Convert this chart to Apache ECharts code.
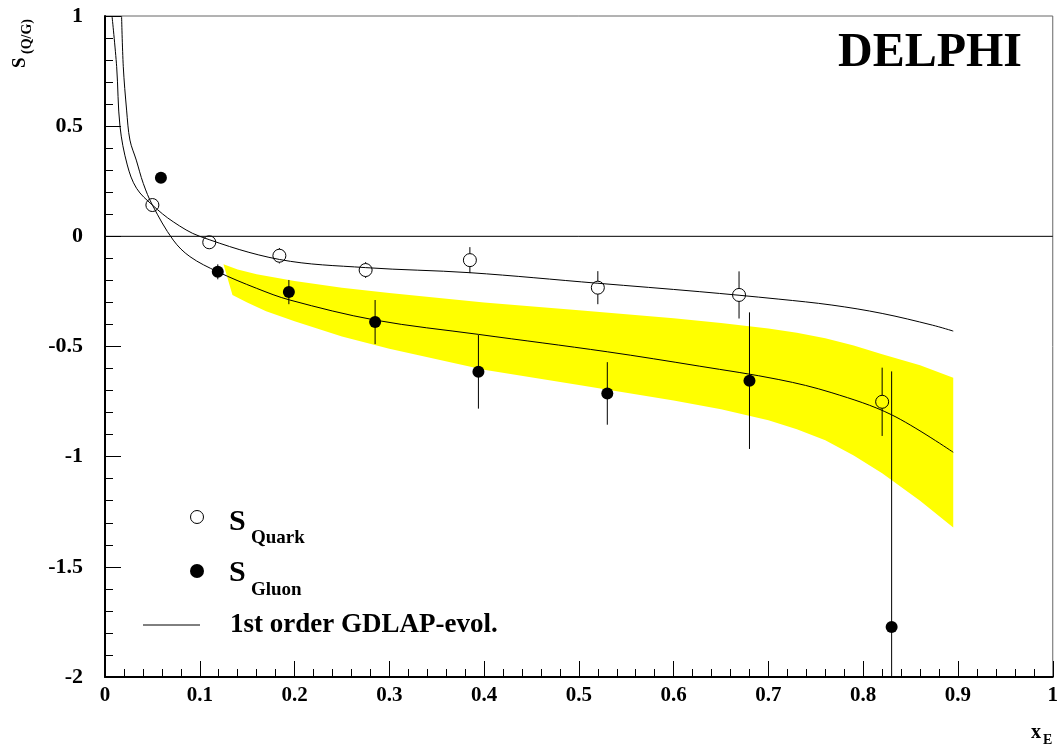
<!DOCTYPE html>
<html>
<head>
<meta charset="utf-8">
<script src="https://cdn.jsdelivr.net/npm/echarts@6/dist/echarts.min.js"></script>
<style>
html,body{margin:0;padding:0;background:#fff;}
#chart{width:1061px;height:749px;}
</style>
</head>
<body>
<div id="chart"></div>
<script>
// ---- data ----
const quarkX   = [0.05, 0.11, 0.184, 0.275, 0.385, 0.52, 0.669, 0.82];
const quarkY   = [0.142, -0.027, -0.088, -0.153, -0.108, -0.233, -0.266, -0.751];
const quarkErr = [0, 0.015, 0.035, 0.036, 0.059, 0.075, 0.107, 0.155];

const gluonX   = [0.059, 0.119, 0.194, 0.285, 0.394, 0.53, 0.68, 0.83];
const gluonY   = [0.266, -0.161, -0.253, -0.389, -0.615, -0.713, -0.655, -1.773];
const gluonErr = [0, 0.034, 0.055, 0.1, 0.167, 0.142, 0.31, 1.16];

const quarkCurveX = [0.0074, 0.0123, 0.0158, 0.0235, 0.0333, 0.05, 0.072, 0.1, 0.184, 0.275, 0.385, 0.52, 0.627, 0.711, 0.767, 0.82, 0.873, 0.895];
const quarkCurveY = [1.0, 0.77, 0.50, 0.324, 0.218, 0.142, 0.066, 0.0, -0.105, -0.142, -0.165, -0.213, -0.251, -0.285, -0.312, -0.35, -0.403, -0.43];

const gluonCurveX = [0.0175, 0.0193, 0.0228, 0.0263, 0.033, 0.0404, 0.05, 0.072, 0.0896, 0.119, 0.16, 0.195, 0.285, 0.394, 0.53, 0.627, 0.711, 0.767, 0.83, 0.895];
const gluonCurveY = [1.0, 0.77, 0.573, 0.437, 0.346, 0.24, 0.142, -0.017, -0.092, -0.161, -0.236, -0.289, -0.38, -0.445, -0.524, -0.589, -0.65, -0.71, -0.81, -0.98];

const bandUpperX = [0.125, 0.14, 0.16, 0.2, 0.25, 0.3, 0.4, 0.5, 0.6, 0.65, 0.7, 0.73, 0.76, 0.79, 0.82, 0.86, 0.895];
const bandUpperY = [-0.127, -0.15, -0.172, -0.203, -0.233, -0.257, -0.3, -0.335, -0.372, -0.393, -0.418, -0.438, -0.463, -0.495, -0.535, -0.585, -0.642];
const bandLowerX = [0.1345, 0.15, 0.17, 0.2, 0.25, 0.3, 0.4, 0.5, 0.6, 0.65, 0.7, 0.73, 0.76, 0.79, 0.82, 0.86, 0.895];
const bandLowerY = [-0.266, -0.3, -0.34, -0.385, -0.455, -0.51, -0.605, -0.675, -0.745, -0.785, -0.835, -0.875, -0.925, -0.995, -1.075, -1.2, -1.321];

const zeroLineX = [0, 1];
const zeroLineY = [0, 0];

const legendLabels = ['Quark', 'Gluon', '1st order GDLAP-evol.'];
const experimentLabel = 'DELPHI';

// ---- build ----
const zip = (xs, ys) => xs.map((x, i) => [x, ys[i]]);
const zip3 = (xs, ys, es) => xs.map((x, i) => [x, ys[i], es[i]]);
const FONT = '"Liberation Serif", "Times New Roman", serif';

function errorBarRender(gap) {
  return function (params, api) {
    const x = api.value(0), y = api.value(1), e = api.value(2);
    if (!e) return null;
    const cs = params.coordSys;
    const c = api.coord([x, y]);
    const t = api.coord([x, y + e]);
    const b = api.coord([x, y - e]);
    const top = Math.max(t[1], cs.y);
    const bot = Math.min(b[1], cs.y + cs.height);
    const children = [];
    const style = { stroke: '#000', lineWidth: 1 };
    if (top < c[1] - gap) children.push({ type: 'line', shape: { x1: c[0], y1: top, x2: c[0], y2: c[1] - gap }, style });
    if (bot > c[1] + gap) children.push({ type: 'line', shape: { x1: c[0], y1: c[1] + gap, x2: c[0], y2: bot }, style });
    return { type: 'group', children };
  };
}

const chart = echarts.init(document.getElementById('chart'), null, { renderer: 'canvas' });

const option = {
  backgroundColor: '#fff',
  animation: false,
  grid: { left: 105, right: 7, top: 16, bottom: 72, show: true, borderColor: '#666', borderWidth: 1, backgroundColor: 'transparent' },
  xAxis: {
    type: 'value', min: 0, max: 1, interval: 0.1,
    axisLine: { onZero: false, lineStyle: { color: '#000', width: 2 } },
    axisTick: { inside: true, length: 16, lineStyle: { color: '#000', width: 1 } },
    minorTick: { show: true, splitNumber: 5, length: 8, lineStyle: { color: '#000', width: 1 } },
    splitLine: { show: false },
    axisLabel: { color: '#000', fontFamily: FONT, fontWeight: 'bold', fontSize: 21, margin: 8 }
  },
  yAxis: {
    type: 'value', min: -2, max: 1, interval: 0.5,
    axisLine: { onZero: false, lineStyle: { color: '#000', width: 2 } },
    axisTick: { inside: true, length: 16, lineStyle: { color: '#000', width: 1 } },
    minorTick: { show: true, splitNumber: 5, length: 8, lineStyle: { color: '#000', width: 1 } },
    splitLine: { show: false },
    axisLabel: { color: '#000', fontFamily: FONT, fontWeight: 'bold', fontSize: 22, margin: 22 }
  },
  series: [
    {
      type: 'custom', z: 1, silent: true,
      data: [[0, 0]],
      renderItem: function (params, api) {
        const pts = [];
        for (let i = 0; i < bandUpperX.length; i++) pts.push(api.coord([bandUpperX[i], bandUpperY[i]]));
        for (let i = bandLowerX.length - 1; i >= 0; i--) pts.push(api.coord([bandLowerX[i], bandLowerY[i]]));
        return { type: 'polygon', shape: { points: pts }, style: { fill: '#ffff00', stroke: null } };
      }
    },
    {
      type: 'line', z: 2, data: zip(zeroLineX, zeroLineY), symbol: 'none',
      lineStyle: { color: '#000', width: 1 }
    },
    {
      type: 'line', z: 3, data: zip(quarkCurveX, quarkCurveY), symbol: 'none', smooth: 0.35,
      lineStyle: { color: '#000', width: 1 }, clip: true
    },
    {
      type: 'line', z: 3, data: zip(gluonCurveX, gluonCurveY), symbol: 'none', smooth: 0.35,
      lineStyle: { color: '#000', width: 1 }, clip: true
    },
    {
      type: 'custom', z: 4, data: zip3(quarkX, quarkY, quarkErr),
      renderItem: errorBarRender(6.5)
    },
    {
      type: 'custom', z: 4, data: zip3(gluonX, gluonY, gluonErr),
      renderItem: errorBarRender(0)
    },
    {
      type: 'scatter', z: 5, data: zip(quarkX, quarkY), symbol: 'circle', symbolSize: 13,
      itemStyle: { color: 'rgba(0,0,0,0)', borderColor: '#000', borderWidth: 1, opacity: 1 }
    },
    {
      type: 'scatter', z: 5, data: zip(gluonX, gluonY), symbol: 'circle', symbolSize: 12,
      itemStyle: { color: '#000', opacity: 1 }
    }
  ],
  graphic: [
    { type: 'text', left: 838, top: 30, style: { text: experimentLabel, font: 'bold 48px ' + FONT, fill: '#000' } },
    // y axis title
    {
      type: 'group', x: 20, y: 68, rotation: Math.PI / 2,
      children: [
        { type: 'text', x: 0, y: 0, style: { text: 'S', font: 'bold 19px ' + FONT, fill: '#000', verticalAlign: 'middle', align: 'left' } },
        { type: 'text', x: 14, y: 7, style: { text: '(Q/G)', font: 'bold 14px ' + FONT, fill: '#000', verticalAlign: 'middle', align: 'left' } }
      ]
    },
    // x axis title
    { type: 'text', x: 1031, y: 733, style: { text: 'x', font: 'bold 20px ' + FONT, fill: '#000', verticalAlign: 'middle' } },
    { type: 'text', x: 1043, y: 740, style: { text: 'E', font: 'bold 14px ' + FONT, fill: '#000', verticalAlign: 'middle' } },
    // legend
    { type: 'circle', shape: { cx: 197, cy: 517, r: 6.5 }, style: { fill: 'none', stroke: '#000', lineWidth: 1 } },
    { type: 'text', x: 229, y: 522, style: { text: 'S', font: 'bold 30px ' + FONT, fill: '#000', verticalAlign: 'middle' } },
    { type: 'text', x: 251, y: 538, style: { text: legendLabels[0], font: 'bold 19px ' + FONT, fill: '#000', verticalAlign: 'middle' } },
    { type: 'circle', shape: { cx: 197, cy: 571, r: 7 }, style: { fill: '#000' } },
    { type: 'text', x: 229, y: 573, style: { text: 'S', font: 'bold 30px ' + FONT, fill: '#000', verticalAlign: 'middle' } },
    { type: 'text', x: 251, y: 590, style: { text: legendLabels[1], font: 'bold 19px ' + FONT, fill: '#000', verticalAlign: 'middle' } },
    { type: 'line', shape: { x1: 143, y1: 625, x2: 200, y2: 625 }, style: { stroke: '#000', lineWidth: 1 } },
    { type: 'text', x: 230, y: 625, style: { text: legendLabels[2], font: 'bold 27px ' + FONT, fill: '#000', verticalAlign: 'middle' } }
  ]
};
chart.setOption(option);
</script>
</body>
</html>
